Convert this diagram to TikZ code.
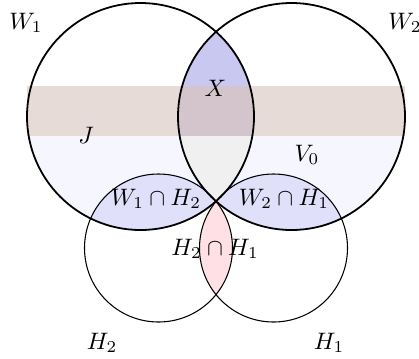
\documentclass[tikz,border=0pt]{standalone}
\begin{document}
\begin{tikzpicture}[x=0.42pt,y=-0.42pt,
  wcirc/.style={draw=black,line width=0.75pt},
  hcirc/.style={draw=black,line width=0.45pt},
  lbl/.style={inner sep=0pt}]
\definecolor{lav}{RGB}{246,246,255}
\definecolor{band}{RGB}{231,219,215}
\definecolor{wh}{RGB}{224,224,250}
\definecolor{xcol}{RGB}{200,200,240}
\definecolor{xband}{RGB}{212,196,204}
\definecolor{xlow}{RGB}{240,240,240}
\definecolor{hh}{RGB}{255,224,228}
\useasboundingbox (0,0) rectangle (419,358);
\coordinate (cW1) at (140.5,116.5);
\coordinate (cW2) at (291.5,116.5);
\coordinate (cH2) at (158.5,248);
\coordinate (cH1) at (273.5,248);
\def\rW{113.5}
\def\rH{74}
% lavender lower part of W1 u W2
\begin{scope}
  \clip (cW1) circle[radius=\rW] (cW2) circle[radius=\rW];
  \fill[lav] (0,136) rectangle (419,240);
\end{scope}
% W1 cap H2 and W2 cap H1
\begin{scope}
  \clip (cW1) circle[radius=\rW];
  \fill[wh] (cH2) circle[radius=\rH];
\end{scope}
\begin{scope}
  \clip (cW2) circle[radius=\rW];
  \fill[wh] (cH1) circle[radius=\rH];
\end{scope}
% band
\fill[band] (27,86) rectangle (405,136);
% lens W1 cap W2
\begin{scope}
  \clip (cW1) circle[radius=\rW];
  \clip (cW2) circle[radius=\rW];
  \fill[xcol] (0,0) rectangle (419,86);
  \fill[xband] (0,86) rectangle (419,136);
  \fill[xlow] (0,136) rectangle (419,240);
\end{scope}
% H2 cap H1
\begin{scope}
  \clip (cH2) circle[radius=\rH];
  \fill[hh] (cH1) circle[radius=\rH];
\end{scope}
% outlines
\draw[hcirc] (cH2) circle[radius=\rH];
\draw[hcirc] (cH1) circle[radius=\rH];
\draw[wcirc] (cW1) circle[radius=\rW];
\draw[wcirc] (cW2) circle[radius=\rW];
% labels
\node[lbl] (lW1) at (26,23) {$W_1$};
\node[lbl] (lW2) at (405,23) {$W_2$};
\node[lbl] (lX) at (215.5,88) {$X$};
\node[lbl] (lJ) at (86,135) {$J$};
\node[lbl] (lV) at (307,155) {$V_0$};
\node[lbl] (lWH1) at (156,199) {$W_1\cap H_2$};
\node[lbl] (lWH2) at (284,199) {$W_2\cap H_1$};
\node[lbl] (lHH) at (215,249) {$H_2\cap H_1$};
\node[lbl] (lH2) at (102,343) {$H_2$};
\node[lbl] (lH1) at (329,343) {$H_1$};
\end{tikzpicture}
\end{document}
